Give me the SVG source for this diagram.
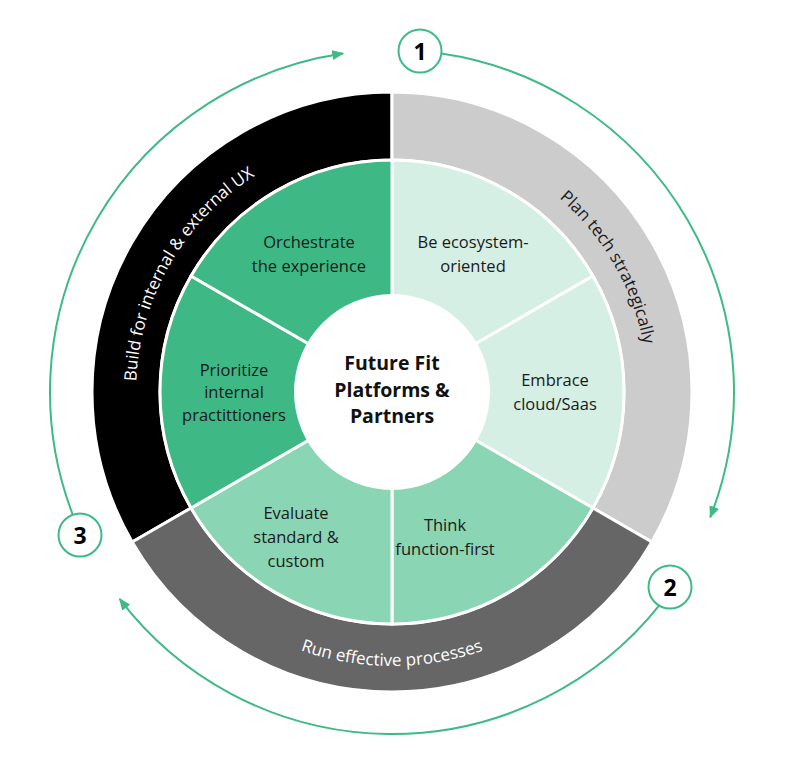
<svg xmlns="http://www.w3.org/2000/svg" width="794" height="765" viewBox="0 0 794 765">
  <style>
    .seg { stroke: #ffffff; stroke-width: 3; stroke-linejoin: miter; }
    .lbl { font-family: "Open Sans", "Liberation Sans", sans-serif; font-size: 16.5px; fill: #1a1a1a; text-anchor: middle; }
    .ctr { font-family: "Open Sans", "Liberation Sans", sans-serif; font-size: 19.5px; font-weight: 700; fill: #111111; text-anchor: middle; }
    .ring { font-family: "Open Sans", "Liberation Sans", sans-serif; font-size: 17px; text-anchor: middle; }
    .flow { fill: none; stroke: #3dba86; stroke-width: 2; marker-end: url(#arrow); }
    .badge circle { fill: #ffffff; stroke: #3dba86; stroke-width: 2; }
    .badge text { font-family: "Open Sans", "Liberation Sans", sans-serif; font-size: 23px; font-weight: 700; fill: #000000; text-anchor: middle; }
  </style>
  <defs>
    <marker id="arrow" markerUnits="userSpaceOnUse" markerWidth="12" markerHeight="10" viewBox="0 0 12 10" refX="11" refY="5" orient="auto">
      <path d="M0,0 L12,5 L0,10 Z" fill="#3dba86"/>
    </marker>
    <path id="pBuild" d="M170.30,520 A256,256 0 0 1 392,136"/>
    <path id="pPlan" d="M392,136 A256,256 0 0 1 613.70,520"/>
    <path id="pRun" d="M154.71,529 A274,274 0 0 0 629.29,529"/>
  </defs>

  <!-- outer ring -->
  <g id="ring-build">
    <path class="seg" fill="#000000" d="M392,92 A300,300 0 0 0 132.19,542 L191.08,508 A232,232 0 0 1 392,160 Z"/>
    <text class="ring" fill="#ffffff"><textPath href="#pBuild" startOffset="50%">Build for internal &amp; external UX</textPath></text>
  </g>
  <g id="ring-plan">
    <path class="seg" fill="#cccccc" d="M392,92 A300,300 0 0 1 651.81,542 L592.92,508 A232,232 0 0 0 392,160 Z"/>
    <text class="ring" fill="#1a1a1a"><textPath href="#pPlan" startOffset="50%">Plan tech strategically</textPath></text>
  </g>
  <g id="ring-run">
    <path class="seg" fill="#666666" d="M132.19,542 A300,300 0 0 0 651.81,542 L592.92,508 A232,232 0 0 1 191.08,508 Z"/>
    <text class="ring" fill="#ffffff"><textPath href="#pRun" startOffset="50%">Run effective processes</textPath></text>
  </g>

  <!-- inner segments -->
  <g id="seg-ecosystem">
    <path class="seg" fill="#d6efe4" d="M392,392 L392,160 A232,232 0 0 1 592.92,276 Z"/>
    <text class="lbl" x="473" y="248">Be ecosystem-</text>
    <text class="lbl" x="473" y="271.5">oriented</text>
  </g>
  <g id="seg-cloud">
    <path class="seg" fill="#d6efe4" d="M392,392 L592.92,276 A232,232 0 0 1 592.92,508 Z"/>
    <text class="lbl" x="555" y="386">Embrace</text>
    <text class="lbl" x="555" y="410">cloud/Saas</text>
  </g>
  <g id="seg-function">
    <path class="seg" fill="#8ad5b4" d="M392,392 L592.92,508 A232,232 0 0 1 392,624 Z"/>
    <text class="lbl" x="445" y="530.5">Think</text>
    <text class="lbl" x="445" y="554.5">function-first</text>
  </g>
  <g id="seg-evaluate">
    <path class="seg" fill="#8ad5b4" d="M392,392 L392,624 A232,232 0 0 1 191.08,508 Z"/>
    <text class="lbl" x="296" y="518.5">Evaluate</text>
    <text class="lbl" x="296" y="543">standard &amp;</text>
    <text class="lbl" x="296" y="567">custom</text>
  </g>
  <g id="seg-prioritize">
    <path class="seg" fill="#3eb884" d="M392,392 L191.08,508 A232,232 0 0 1 191.08,276 Z"/>
    <text class="lbl" x="234" y="375.5">Prioritize</text>
    <text class="lbl" x="234" y="398">internal</text>
    <text class="lbl" x="234" y="420.5">practittioners</text>
  </g>
  <g id="seg-orchestrate">
    <path class="seg" fill="#3eb884" d="M392,392 L191.08,276 A232,232 0 0 1 392,160 Z"/>
    <text class="lbl" x="309" y="248">Orchestrate</text>
    <text class="lbl" x="309" y="271.5">the experience</text>
  </g>

  <!-- center -->
  <g id="center">
    <circle cx="392" cy="392" r="98" fill="#ffffff"/>
    <text class="ctr" x="392" y="370">Future Fit</text>
    <text class="ctr" x="392" y="396.5">Platforms &amp;</text>
    <text class="ctr" x="392" y="423">Partners</text>
  </g>

  <!-- connectors -->
  <g id="connectors">
    <path class="flow" d="M441.37,53.58 A342,342 0 0 1 710.2,517.3"/>
    <path class="flow" d="M659.28,605.37 A342,342 0 0 1 119.6,598.8"/>
    <path class="flow" d="M72.72,514.56 A342,342 0 0 1 343.2,53.5"/>
  </g>

  <!-- step badges -->
  <g id="step-1" class="badge">
    <circle cx="420" cy="51" r="21.5"/>
    <text x="420" y="59.5">1</text>
  </g>
  <g id="step-2" class="badge">
    <circle cx="670" cy="587" r="21.5"/>
    <text x="670" y="595.5">2</text>
  </g>
  <g id="step-3" class="badge">
    <circle cx="80" cy="535" r="21.5"/>
    <text x="80" y="543.5">3</text>
  </g>
</svg>
